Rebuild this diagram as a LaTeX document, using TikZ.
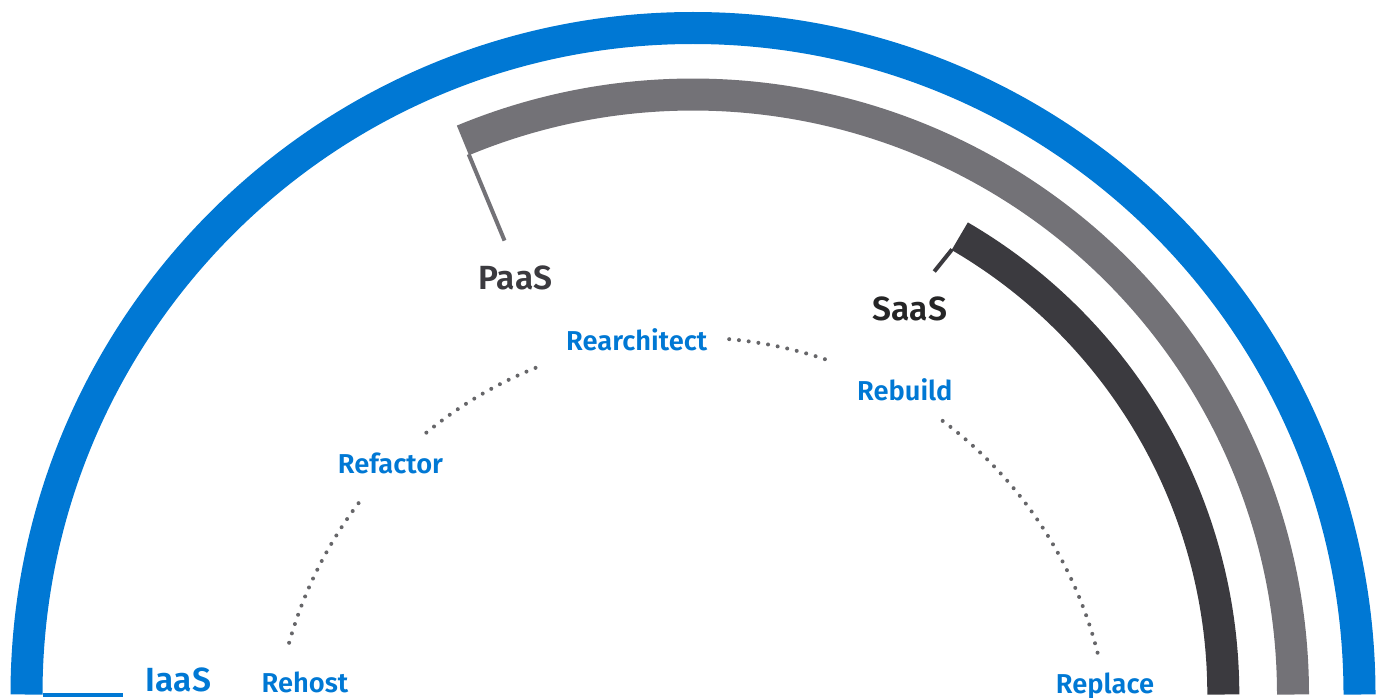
\documentclass[tikz,border=0pt]{standalone}
\usepackage{fontspec}
\newfontfamily\lblfont{Fira Sans SemiBold}
\definecolor{msblue}{HTML}{0078D4}
\definecolor{paasgray}{HTML}{737277}
\definecolor{saasdark}{HTML}{3B3A3F}
\definecolor{dotgray}{HTML}{666669}
\definecolor{paastext}{HTML}{3B3A3F}
\definecolor{saastext}{HTML}{252526}
\begin{document}
\begin{tikzpicture}[x=1pt,y=1pt,
  band/.style={line width=32pt},
  tickline/.style={line width=4pt},
  dotline/.style={dotgray, line width=4pt, line cap=round, dash pattern=on 0pt off 9.8pt},
  biglabel/.style={font=\lblfont\fontsize{33.5}{33.5}\selectfont, anchor=base, inner sep=0pt},
  smalllabel/.style={font=\lblfont\fontsize{27.3}{27.3}\selectfont, text=msblue, anchor=base, inner sep=0pt}]
\useasboundingbox (0,0) rectangle (1382,-698);
\clip (0,0) rectangle (1382,-698);
% centres
\coordinate (c) at (693,-694.5);
\coordinate (dc) at (692,-756);
% IaaS band (blue)
\draw[band, msblue] ([shift={(180:666.5)}]c) arc[start angle=180, end angle=0, radius=666.5];
\draw[tickline, msblue, shift={(90:2)}] ([shift={(180:650.5)}]c) -- ([shift={(180:570)}]c);
% PaaS band (gray)
\draw[band, paasgray] ([shift={(112.55:600)}]c) arc[start angle=112.55, end angle=0, radius=600];
\draw[tickline, paasgray, shift={(22.55:2)}] ([shift={(112.55:585)}]c) -- ([shift={(112.55:491.5)}]c);
% SaaS band (dark)
\draw[band, saasdark] ([shift={(59.8:530.3)}]c) arc[start angle=59.8, end angle=0, radius=530.3];
\draw[tickline, saasdark, shift={(-30.2:2)}] ([shift={(59.8:515)}]c) -- ([shift={(60.3:487)}]c);
% labels
\node[biglabel, text=msblue] (iaas) at (178.4,-691.5) {IaaS};
\node[biglabel, text=paastext] (paas) at (515.5,-289.3) {PaaS};
\node[biglabel, text=saastext] (saas) at (910,-320.7) {SaaS};
\node[smalllabel] (rehost) at (305,-692.8) {Rehost};
\node[smalllabel] (refactor) at (390.5,-473.3) {Refactor};
\node[smalllabel] (rearch) at (636.7,-350) {Rearchitect};
\node[smalllabel] (rebuild) at (904.8,-400) {Rebuild};
\node[smalllabel] (replace) at (1105,-693) {Replace};
% dotted path between strategies
\draw[dotline] ([shift={(164.3:418.5)}]dc) arc[start angle=164.3, end angle=142.2, radius=418.5];
\draw[dotline] ([shift={(129.4:418.5)}]dc) arc[start angle=129.4, end angle=110.9, radius=418.5];
\draw[dotline] ([shift={(84.9:418.5)}]dc) arc[start angle=84.9, end angle=70.3, radius=418.5];
\draw[dotline] ([shift={(53.2:418.5)}]dc) arc[start angle=53.2, end angle=14.0, radius=418.5];
\end{tikzpicture}
\end{document}
